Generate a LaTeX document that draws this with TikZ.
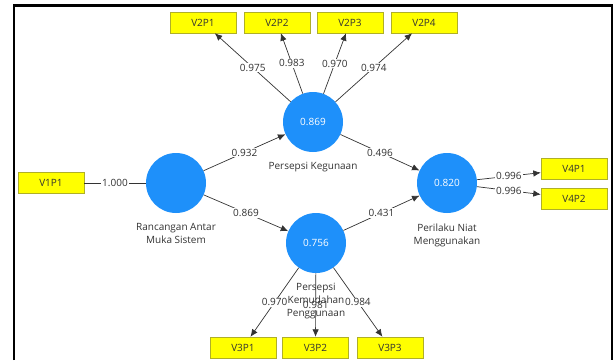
\documentclass[tikz,border=0pt]{standalone}
\usepackage{fontspec}
\setmainfont{Open Sans}
\usetikzlibrary{arrows.meta,positioning}
\definecolor{plsblue}{RGB}{30,144,250}
\definecolor{plsyellow}{RGB}{255,255,0}
\definecolor{plsedge}{RGB}{175,175,40}
\definecolor{plstext}{RGB}{50,50,50}
\begin{document}
\begin{tikzpicture}[x=1pt, y=-1pt,
    lv/.style={circle, fill=plsblue, minimum size=60pt, inner sep=0pt, text=white, font=\fontsize{10}{12}\selectfont},
    ind/.style={draw=plsedge, fill=plsyellow, minimum width=66pt, minimum height=21pt, inner sep=0pt, text=plstext, font=\fontsize{10}{12}\selectfont},
    lnk/.style={draw=black!80, line width=0.7pt},
    arr/.style={lnk, -{Latex[length=7.5pt,width=6.5pt]}},
    lbl/.style={fill=white, inner sep=1pt, text=plstext, font=\fontsize{10}{12}\selectfont},
    lvname/.style={inner sep=1pt, align=center, text=plstext, font=\fontsize{10}{13}\selectfont}]
  \useasboundingbox (0,0) rectangle (613,360);
  % frame, open at the bottom
  \draw[line width=2.5pt] (14,360) -- (14,5.5) -- (612,5.5) -- (612,360);
  % latent variables
  \node[lv] (RA) at (176,183) {};
  \node[lv] (PK) at (313,122) {0.869};
  \node[lv] (PKM) at (316,243) {0.756};
  \node[lv] (PN) at (447,183) {0.820};
  % inner model
  \draw[arr] (RA) -- node[lbl] {0.932} (PK);
  \draw[arr] (RA) -- node[lbl] {0.869} (PKM);
  \draw[arr] (PK) -- node[lbl] {0.496} (PN);
  \draw[arr] (PKM) -- node[lbl] {0.431} (PN);
  % V1P1
  \node[ind] (V1P1) at (51,183) {V1P1};
  \draw[lnk] (V1P1) -- node[lbl] {1.000} (RA);
  % V2P1..V2P4 above
  \foreach \i/\x/\v in {1/203/0.975, 2/277/0.983, 3/350/0.970, 4/424/0.974} {
    \node[ind] (V2P\i) at (\x,22.5) {V2P\i};
    \draw[arr] (PK) -- node[lbl] {\v} (V2P\i);
  }
  % V3P1..V3P3 below
  \foreach \i/\x/\v in {1/243/0.970, 2/315.5/0.981, 3/390/0.984} {
    \node[ind] (V3P\i) at (\x,347.5) {V3P\i};
    \draw[arr] (PKM) -- node[lbl] {\v} (V3P\i);
  }
  % V4P1, V4P2 right
  \foreach \i/\y in {1/169, 2/198.5} {
    \node[ind] (V4P\i) at (574,\y) {V4P\i};
    \draw[arr] (PN) -- node[lbl] {0.996} (V4P\i);
  }
  % names under the circles
  \node[lvname, below=9pt of PK] {Persepsi Kegunaan};
  \node[lvname, below=9pt of RA] {Rancangan Antar\\Muka Sistem};
  \node[lvname, below=9pt of PN] {Perilaku Niat\\Menggunakan};
  \node[lvname, below=9pt of PKM] {Persepsi\\Kemudahan\\Penggunaan};
\end{tikzpicture}
\end{document}
